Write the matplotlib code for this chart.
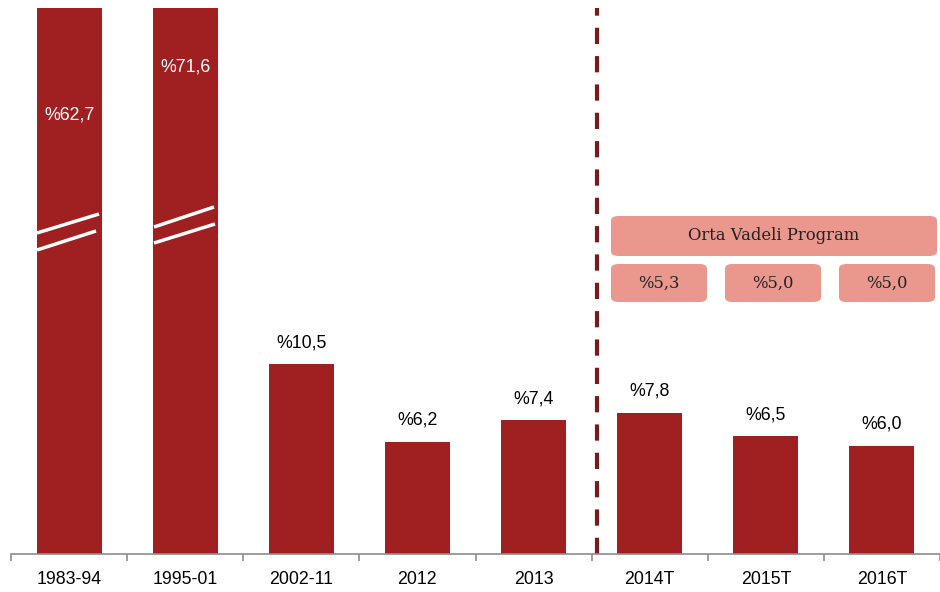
import matplotlib
matplotlib.use("Agg")
import matplotlib.pyplot as plt
from matplotlib.patches import FancyBboxPatch
from matplotlib.lines import Line2D

categories = ["1983-94", "1995-01", "2002-11", "2012", "2013", "2014T", "2015T", "2016T"]
values = [62.7, 71.6, 10.5, 6.2, 7.4, 7.8, 6.5, 6.0]
labels = ["%62,7", "%71,6", "%10,5", "%6,2", "%7,4", "%7,8", "%6,5", "%6,0"]
ovp_title = "Orta Vadeli Program"
ovp_labels = ["%5,3", "%5,0", "%5,0"]

W, H = 940, 592
fig = plt.figure(figsize=(W / 100, H / 100), dpi=100)
ax = fig.add_axes([11 / W, (H - 554) / H, (W - 11) / W, (554 - 8) / H])
ax.set_xlim(-0.5, len(categories) - 0.5)
ymax = 30.2
ax.set_ylim(0, ymax)

bar_color = "#A01F20"
x = list(range(len(categories)))
ax.bar(x, values, width=0.56, color=bar_color, zorder=2)

for i, (v, lab) in enumerate(zip(values, labels)):
    if v > ymax:
        ypix = [115, 67][i]
        yd = (554 - ypix) / (554 - 8) * ymax
        ax.text(i, yd, lab, ha="center", va="center", color="white",
                fontsize=12.8, family="Liberation Sans")
    else:
        ax.text(i, v + 1.19, lab, ha="center", va="center", color="black",
                fontsize=12.8, family="Liberation Sans")

breaks = [[((37, 233), (99, 214)), ((37, 250), (96, 231))],
          [((154, 227), (214, 207)), ((154, 243), (215, 224))]]
for segs in breaks:
    for (p0, p1) in segs:
        ax.add_line(Line2D([p0[0] / W, p1[0] / W], [1 - p0[1] / H, 1 - p1[1] / H],
                           transform=fig.transFigure, color="white", lw=2.5,
                           solid_capstyle="butt", zorder=3))

ax.axvline(4.545, color="#7B1A1C", lw=3.0, ls=(0, (3.9, 2.9)), zorder=1)

for s in ["top", "right", "left"]:
    ax.spines[s].set_visible(False)
ax.spines["bottom"].set_color("#8C8C8C")
ax.spines["bottom"].set_linewidth(1.2)
ax.set_yticks([])
ax.set_xticks(x)
ax.set_xticklabels(categories, fontsize=12.8, family="Liberation Sans")
ax.tick_params(axis="x", which="major", length=0, pad=12)
ax.set_xticks([i - 0.5 for i in range(len(categories) + 1)], minor=True)
ax.tick_params(axis="x", which="minor", length=5, color="#8C8C8C", width=1.2, direction="out")

box_color = "#EA978D"
def add_box(x0, y0, x1, y1, text):
    p = FancyBboxPatch((x0 / W, 1 - y1 / H), (x1 - x0) / W, (y1 - y0) / H,
                       boxstyle="round,pad=0,rounding_size=0.008",
                       transform=fig.transFigure, facecolor=box_color,
                       edgecolor="none", zorder=5)
    fig.patches.append(p)
    fig.text((x0 + x1) / 2 / W, 1 - (y0 + y1) / 2 / H, text, ha="center", va="center",
             fontsize=11.8, family="DejaVu Serif", color="#222222", zorder=6)

add_box(611, 216, 937, 256, ovp_title)
for (bx0, bx1), t in zip([(611, 707), (725, 821), (839, 935)], ovp_labels):
    add_box(bx0, 264, bx1, 302, t)

fig.savefig("out.png", dpi=100)
